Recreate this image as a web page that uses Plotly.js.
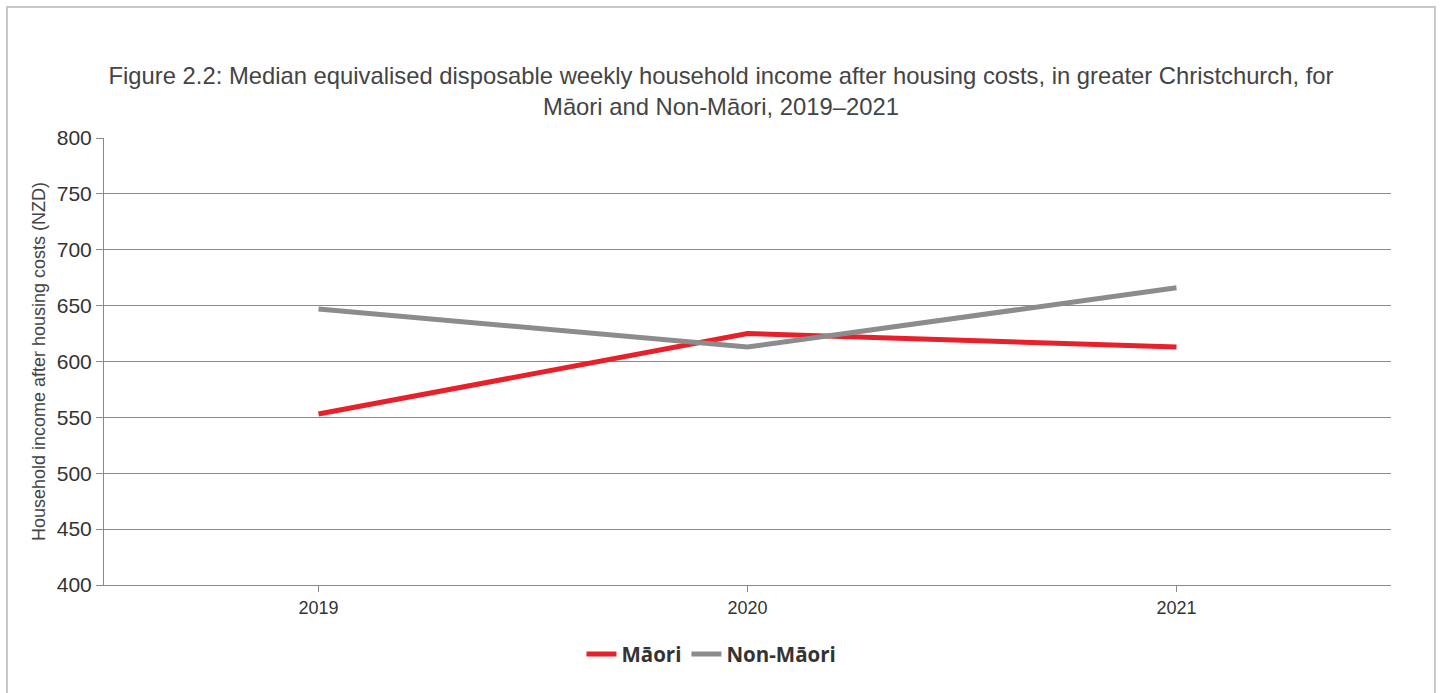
<!DOCTYPE html>
<html>
<head>
<meta charset="utf-8">
<script src="https://cdn.plot.ly/plotly-3.0.1.min.js"></script>
<style>
  html, body { margin: 0; padding: 0; background: #fff; }
  #wrap { position: relative; width: 1442px; height: 693px; }
  #chart { position: absolute; left: 0; top: 0; width: 1442px; height: 693px; }
  #frame { position: absolute; left: 6px; top: 6px; width: 1426px; height: 700px; border: 2px solid #c8c8c8; pointer-events: none; }
</style>
</head>
<body>
<div id="wrap">
  <div id="chart"></div>
  <div id="frame"></div>
</div>
<script>
const years = ['2019', '2020', '2021'];
const maori = [553, 625, 613];
const nonMaori = [647, 613, 666];
const seriesNames = ['Māori', 'Non-Māori'];

const traces = [
  { x: years, y: maori, name: seriesNames[0], type: 'scatter', mode: 'lines',
    line: { color: '#e8202a', width: 5 } },
  { x: years, y: nonMaori, name: seriesNames[1], type: 'scatter', mode: 'lines',
    line: { color: '#8c8c8c', width: 5 } }
];

const layout = {
  width: 1442, height: 693,
  margin: { l: 104, r: 51, t: 138, b: 108 },
  paper_bgcolor: 'rgba(0,0,0,0)',
  plot_bgcolor: '#fff',
  title: {
    text: 'Figure 2.2: Median equivalised disposable weekly household income after housing costs, in greater Christchurch, for<br>Māori and Non-Māori, 2019–2021',
    font: { family: 'Liberation Sans, Arial, sans-serif', size: 23.8, color: '#444' },
    x: 0.5, xref: 'container', xanchor: 'center',
    y: 0.879, yref: 'container', yanchor: 'middle'
  },
  xaxis: {
    type: 'category', range: [-0.5, 2.5],
    showgrid: false, zeroline: false,
    showline: true, linecolor: '#8a8a8a', linewidth: 1,
    ticks: 'outside', ticklen: 6, tickcolor: '#8a8a8a',
    tickfont: { family: 'Liberation Sans, Arial, sans-serif', size: 18, color: '#333' }
  },
  yaxis: {
    range: [400, 800], dtick: 50, tick0: 400,
    showgrid: true, gridcolor: '#8a8a8a', gridwidth: 1,
    zeroline: false, showline: true, linecolor: '#8a8a8a', linewidth: 1,
    ticks: 'outside', ticklen: 7, tickcolor: '#8a8a8a',
    tickfont: { family: 'Liberation Sans, Arial, sans-serif', size: 21, color: '#333' },
    title: { text: 'Household income after housing costs (NZD)', standoff: 6,
      font: { family: 'Liberation Sans, Arial, sans-serif', size: 18, color: '#444' } }
  },
  showlegend: true,
  legend: {
    orientation: 'h', x: 0.472, xanchor: 'center', y: -0.155, yanchor: 'middle',
    font: { family: 'Open Sans, sans-serif', size: 20.5, color: '#333', weight: 'bold' },
    itemwidth: 30, traceorder: 'normal'
  }
};

Plotly.newPlot('chart', traces, layout, { displayModeBar: false, staticPlot: true });
</script>
</body>
</html>
